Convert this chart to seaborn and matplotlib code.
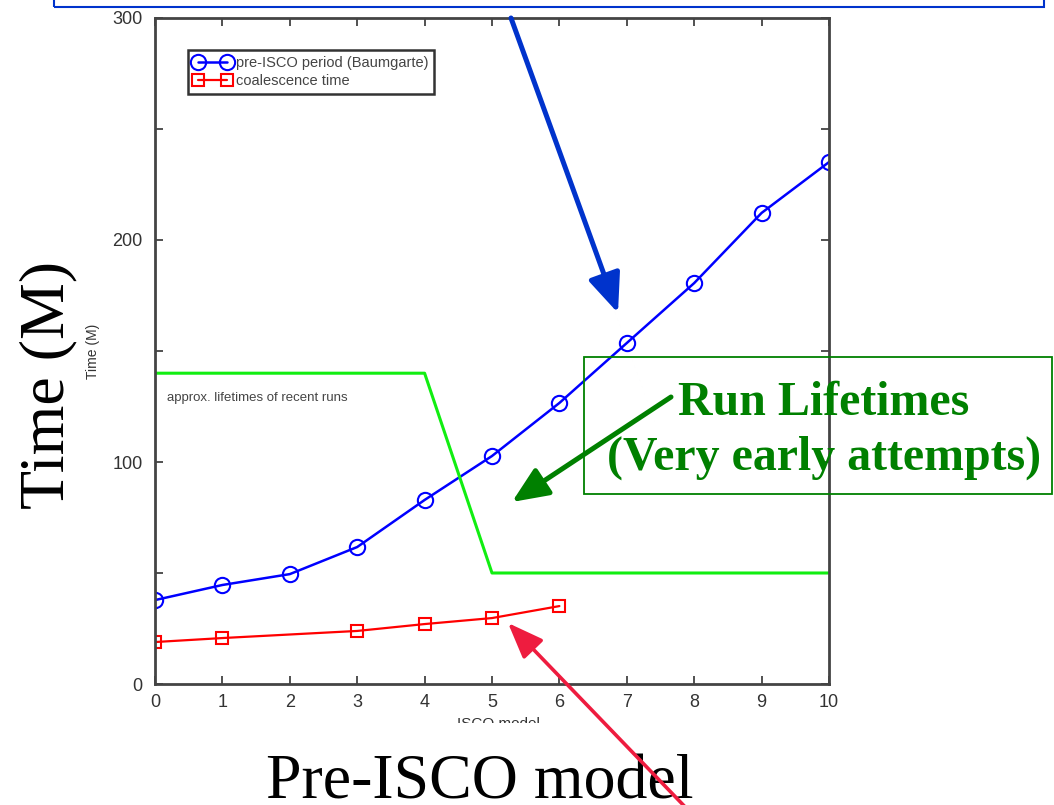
import matplotlib
matplotlib.use("Agg")
import matplotlib.pyplot as plt
from matplotlib.patches import Rectangle, FancyArrowPatch, ArrowStyle
import seaborn as sns

# ---- data ----
models = [0, 1, 2, 3, 4, 5, 6, 7, 8, 9, 10]
pre_isco = [37.8, 44.6, 49.5, 61.7, 82.9, 102.7, 126.6, 153.6, 180.6, 212.2, 235.1]
coal_models = [0, 1, 3, 4, 5, 6]
coalescence = [18.9, 20.7, 23.9, 27.0, 29.7, 35.1]
life_models = [0, 4, 5, 10]
run_lifetimes = [140, 140, 50, 50]
x_ticks = list(range(11))
y_major = [0, 100, 200, 300]
y_minor = [50, 150, 250]

sns.set_style("ticks")
plt.rcParams["font.family"] = ["Liberation Sans", "DejaVu Sans"]

W, H = 1054, 805
fig = plt.figure(figsize=(W / 100, H / 100), dpi=100)


def fp(x, y):
    return (x / W, 1 - y / H)


ax = fig.add_axes([155 / W, 1 - 684 / H, 674 / W, 666 / H])

sns.lineplot(x=models, y=pre_isco, ax=ax, color="#0000ff", linewidth=1.8,
             marker="o", markersize=11, markerfacecolor="none",
             markeredgecolor="#0000ff", markeredgewidth=1.5,
             label="pre-ISCO period (Baumgarte)")
sns.lineplot(x=coal_models, y=coalescence, ax=ax, color="#ff0000", linewidth=1.6,
             marker="s", markersize=9, markerfacecolor="none",
             markeredgecolor="#ff0000", markeredgewidth=1.5,
             label="coalescence time")
sns.lineplot(x=life_models, y=run_lifetimes, ax=ax, color="#11ee11",
             linewidth=2.2, sort=False, legend=False)

ax.set_xlim(0, 10)
ax.set_ylim(0, 300)
ax.set_xticks(x_ticks)
ax.set_yticks(y_major)
ax.set_yticks(y_minor, minor=True)
ax.tick_params(which="both", direction="in", top=True, right=True,
               length=6, width=1.2, color="#333333")
ax.tick_params(axis="y", which="major", labelsize=13, pad=9, labelcolor="#333333")
ax.tick_params(axis="x", labelsize=13, pad=7, labelcolor="#333333")
for s in ax.spines.values():
    s.set_linewidth(2)
    s.set_color("#444444")

ax.set_ylabel("Time (M)", fontsize=10, color="#333333")
ax.yaxis.set_label_coords(-0.082, 0.5)
ax.set_xlabel("ISCO model", fontsize=11, color="#333333")
ax.xaxis.set_label_coords(0.51, -0.05)

ax.text(0.18, 129, "approx. lifetimes of recent runs", fontsize=9.5,
        color="#444444", va="center")

handles, labels = ax.get_legend_handles_labels()
leg = ax.legend(handles[:2], labels[:2], loc="upper left",
                bbox_to_anchor=(0.049, 0.952), borderaxespad=0, numpoints=2,
                handlelength=2.6, fontsize=10.5, frameon=True, fancybox=False,
                edgecolor="#333333", framealpha=1, borderpad=0.4,
                labelspacing=0.3, handletextpad=0.3, labelcolor="#444444")
leg.get_frame().set_linewidth(1.8)

# white cover hiding the lower part of the small x label
fig.add_artist(Rectangle(fp(100, 805), 900 / W, (805 - 723) / H,
                         transform=fig.transFigure, facecolor="white",
                         edgecolor="none", zorder=5))

# blue frame at top
fig.add_artist(Rectangle(fp(54, 7), (1044 - 54) / W, 0.05,
                         transform=fig.transFigure, fill=False,
                         edgecolor="#0033cc", linewidth=1.5, zorder=6))

# green box
fig.add_artist(Rectangle(fp(584, 494), (1052 - 584) / W, (494 - 357) / H,
                         transform=fig.transFigure, fill=False,
                         edgecolor="#008000", linewidth=1.3, zorder=6))

serif = ["Liberation Serif", "DejaVu Serif"]
fig.text(*fp(824, 415), "Run Lifetimes", ha="center", va="baseline",
         fontsize=34.5, fontweight="bold", color="#008000", family=serif, zorder=10)
fig.text(*fp(824, 470), "(Very early attempts)", ha="center", va="baseline",
         fontsize=34.5, fontweight="bold", color="#008000", family=serif, zorder=10)
fig.text(*fp(48, 385), "Time (M)", ha="center", va="center", rotation=90,
         fontsize=46, color="black", family=serif, zorder=10)
fig.text(*fp(480, 798), "Pre-ISCO model", ha="center", va="baseline",
         fontsize=46, color="black", family=serif, zorder=10)


def arrow(p0, p1, color, lw, hl, hw):
    st = ArrowStyle("-|>", head_length=hl, head_width=hw)
    a = FancyArrowPatch(fp(*p0), fp(*p1), transform=fig.transFigure,
                        arrowstyle=st, mutation_scale=10, color=color,
                        linewidth=lw, shrinkA=0, shrinkB=0, zorder=12)
    fig.add_artist(a)


arrow((511, 18), (618, 313), "#0033cc", 3.6, 2.4, 1.0)
arrow((671, 397), (512, 502), "#008000", 3.6, 2.2, 0.95)
arrow((690, 812), (508, 623), "#ee1c3f", 2.6, 2.2, 0.85)

fig.savefig("out.png", dpi=100)
